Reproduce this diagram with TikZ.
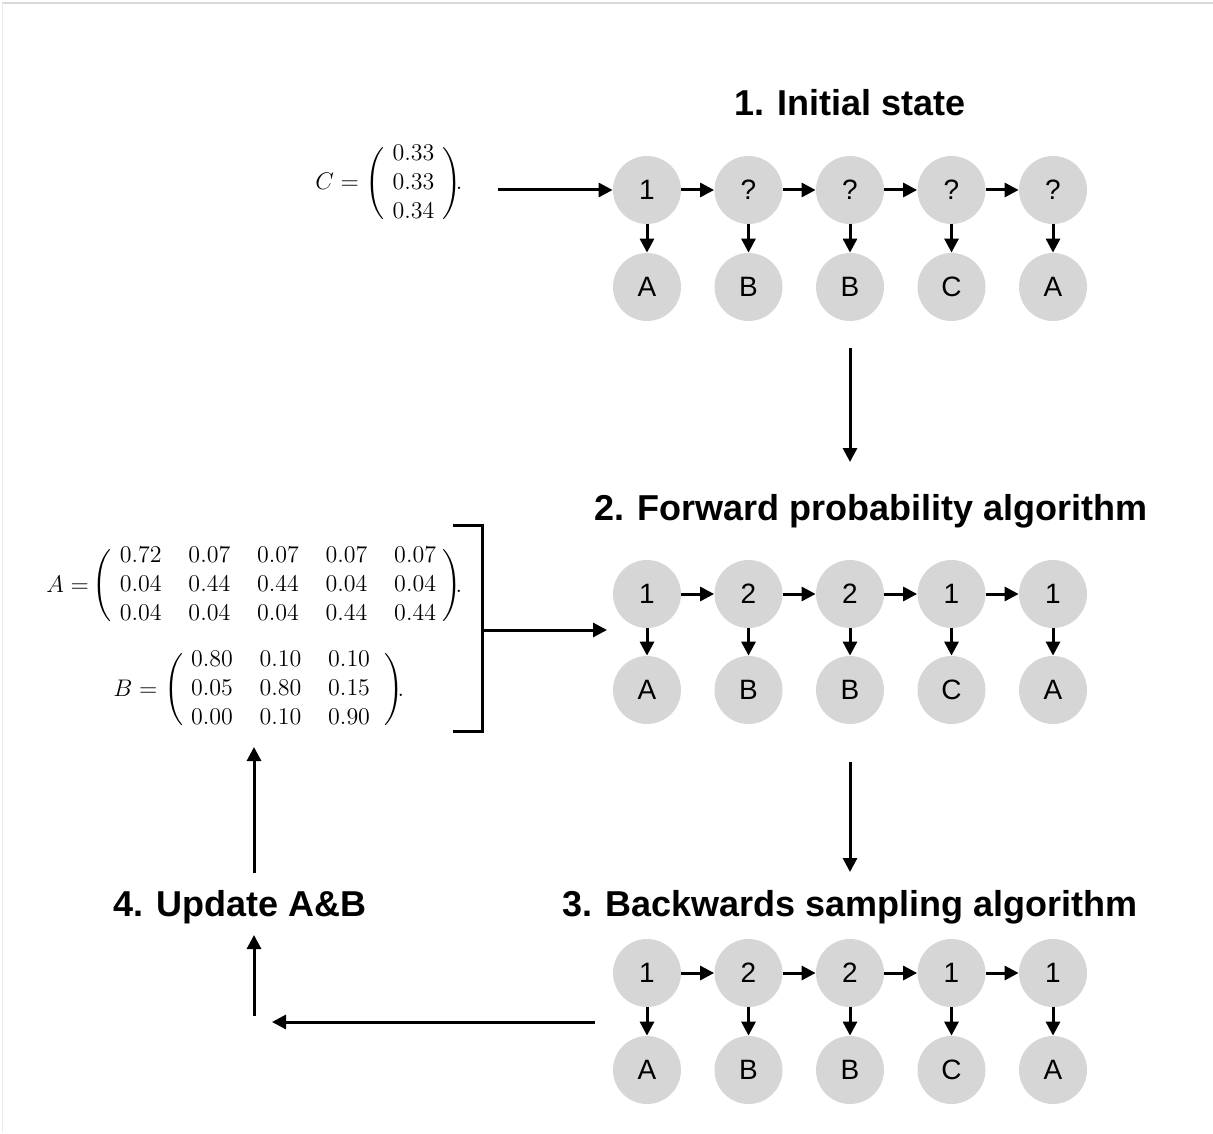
\documentclass[tikz,border=0pt]{standalone}
\usepackage{amsmath}
\usepackage{fontspec}
\setmainfont{Liberation Sans}
\usetikzlibrary{arrows.meta}
\definecolor{cgray}{RGB}{214, 214, 214}
\definecolor{lgray}{RGB}{218, 218, 218}
\tikzset{state/.style = {fill = cgray, circle, inner sep = 0, minimum size = 34, font = \fontsize{14}{17}\selectfont}}
\tikzset{title/.style = {font = \bfseries\fontsize{18}{22}\selectfont}}
\tikzset{mat/.style = {anchor = west, inner sep = 0, font = \fontsize{12}{14.4}\selectfont}}
\tikzset{arr/.style = {line width = 1.5, -{Triangle[length = 7pt, width = 7pt]}}}
\setlength{\arraycolsep}{6.7pt}

\begin{document}
\begin{tikzpicture}[x = 0.5pt, y = -0.5pt]
      \useasboundingbox (0, 0) rectangle (1213, 1133);
      \draw [line width = 0.6, color = lgray] (2, 3) -- (1213, 3);
      \draw [line width = 0.4, color = lgray!50] (2, 3) -- (2, 1133);
      \node [title] (t1) at (850, 103) {1. Initial state};
      \node [title] (t2) at (871, 511) {2. Forward probability algorithm};
      \node [title] (t3) at (850, 907) {3. Backwards sampling algorithm};
      \node [title] (t4) at (240, 907) {4. Update A\&B};
      \node [mat] (matC) at (315, 184)
        {$C = \Bigg(\begin{array}{@{\hspace{4pt}}c@{\hspace{4pt}}} 0.33 \\ 0.33 \\ 0.34 \end{array}\Bigg)\mkern-4mu.$};
      \node [mat] (matA) at (46, 586)
        {$A = \mkern-2mu\Bigg(\begin{array}{@{\hspace{4pt}}ccccc@{\hspace{3pt}}} 0.72 & 0.07 & 0.07 & 0.07 & 0.07 \\ 0.04 & 0.44 & 0.44 & 0.04 & 0.04 \\ 0.04 & 0.04 & 0.04 & 0.44 & 0.44 \end{array}\Bigg)\mkern-4mu.$};
      \node [mat] (matB) at (113, 690)
        {$B = \Bigg(\begin{array}{@{\hspace{4pt}}ccc@{\hspace{7pt}}} 0.80 & 0.10 & 0.10 \\ 0.05 & 0.80 & 0.15 \\ 0.00 & 0.10 & 0.90 \end{array}\Bigg)\mkern-4mu.$};
      \foreach \s [count = \i] in {1,?,?,?,?} {
        \node [state] (s1\i) at ({647 + 101.5*(\i - 1)}, 190) {\s};
      }
      \foreach \c/\y in {2/594, 3/973} {
        \foreach \s [count = \i] in {1,2,2,1,1} {
          \node [state] (s\c\i) at ({647 + 101.5*(\i - 1)}, \y) {\s};
        }
      }
      \foreach \c/\y in {1/287, 2/690, 3/1070} {
        \foreach \o [count = \i] in {A,B,B,C,A} {
          \node [state] (o\c\i) at ({647 + 101.5*(\i - 1)}, \y) {\o};
        }
      }
      \foreach \c in {1,2,3} {
        \foreach \i in {1,...,5} {
          \draw [arr] (s\c\i) -- (o\c\i);
        }
        \foreach \i [evaluate = \i as \j using int(\i + 1)] in {1,...,4} {
          \draw [arr] (s\c\i) -- (s\c\j);
        }
      }
      \coordinate (c0) at (498, 190);
      \draw [arr] (c0) -- (s11);
      \coordinate (d1) at (850, 348);
      \coordinate (d2) at (850, 462);
      \coordinate (d3) at (850, 762);
      \coordinate (d4) at (850, 872);
      \draw [arr] (d1) -- (d2);
      \draw [arr] (d3) -- (d4);
      \coordinate (k1) at (453, 525);
      \coordinate (k2) at (482, 525);
      \coordinate (k3) at (482, 731);
      \coordinate (k4) at (453, 731);
      \coordinate (k5) at (482, 630);
      \coordinate (k6) at (607, 630);
      \draw [line width = 1.5] (k1) -- (k2) -- (k3) -- (k4);
      \draw [arr] (k5) -- (k6);
      \coordinate (e1) at (595, 1022);
      \coordinate (e2) at (272, 1022);
      \coordinate (e3) at (254, 1016);
      \coordinate (e4) at (254, 935);
      \coordinate (e5) at (254, 873);
      \coordinate (e6) at (254, 747);
      \draw [arr] (e1) -- (e2);
      \draw [arr] (e3) -- (e4);
      \draw [arr] (e5) -- (e6);
    \end{tikzpicture}
\end{document}
